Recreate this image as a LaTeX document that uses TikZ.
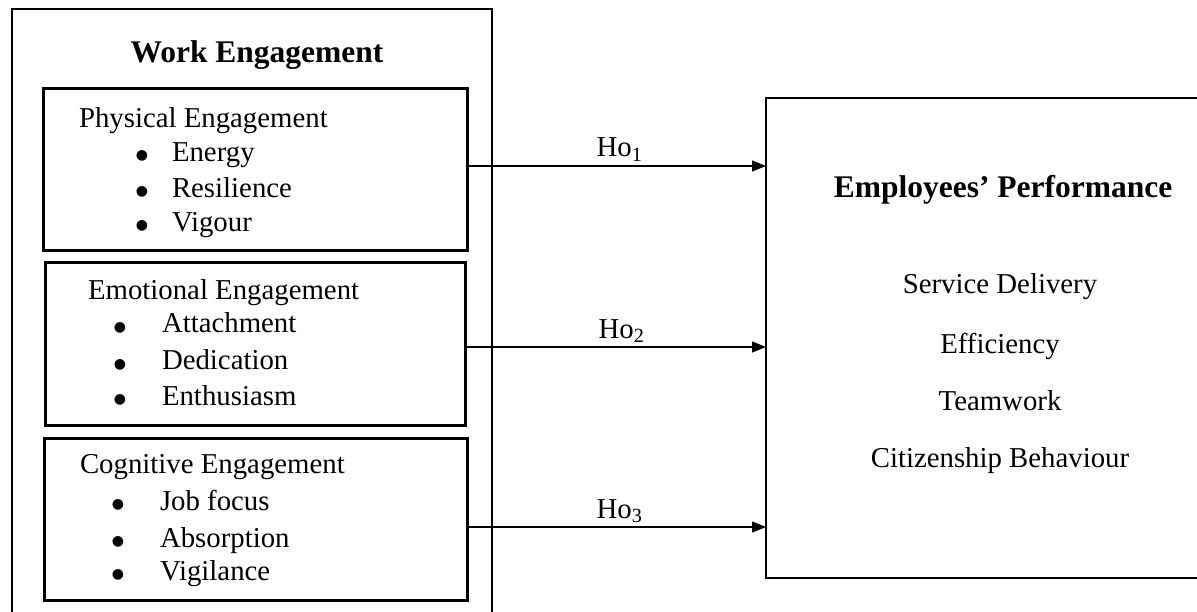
\documentclass[tikz,border=0pt]{standalone}
\usepackage{fontspec}
\setmainfont{Liberation Serif}
\newfontfamily\bulletfont{DejaVu Sans}
\usetikzlibrary{arrows.meta}
\begin{document}
\begin{tikzpicture}[x=1pt,y=-1pt,
  box/.style={draw, rectangle, inner sep=0, outer sep=0, anchor=north west},
  txt/.style={inner sep=0, outer sep=0, anchor=base west, font=\fontsize{28.8}{34}\selectfont},
  ctxt/.style={inner sep=0, outer sep=0, anchor=base, font=\fontsize{28.8}{34}\selectfont},
  bul/.style={inner sep=0, outer sep=0, anchor=base, font=\bulletfont\fontsize{14}{14}\selectfont, yshift=2pt},
  btxt/.style={inner sep=0, outer sep=0, anchor=base, font=\fontsize{31.5}{38}\selectfont\bfseries},
  hyp/.style={line width=1.4pt, -{Triangle[length=14pt,width=11pt]}},
  hlab/.style={inner sep=0, outer sep=0, anchor=base, font=\fontsize{28.8}{34}\selectfont}
]
\useasboundingbox (0,0) rectangle (1197,612);
\clip (0,0) rectangle (1197,612);

% outer container (open at the bottom edge of the picture)
\node[box, line width=2.3pt, minimum width=480pt, minimum height=700pt] (work) at (12,9) {};
\node[btxt] (worktitle) at (257,63) {Work Engagement};

% inner boxes
\node[box, line width=3pt, minimum width=424pt, minimum height=162pt] (phys) at (43,89) {};
\node[box, line width=3pt, minimum width=420pt, minimum height=162pt] (emo) at (45,263) {};
\node[box, line width=3pt, minimum width=423pt, minimum height=162pt] (cog) at (44,438) {};

% right box (open at the right edge of the picture)
\node[box, line width=2.8pt, minimum width=520pt, minimum height=480pt] (perf) at (766,98) {};

% Physical
\node[txt] (physT) at (79,128) {Physical Engagement};
\node[bul] (pb1) at (142,162) {●};
\node[bul] (pb2) at (142,198) {●};
\node[bul] (pb3) at (142,232) {●};
\node[txt] (p1) at (172,162) {Energy};
\node[txt] (p2) at (172,198) {Resilience};
\node[txt] (p3) at (172,232) {Vigour};

% Emotional
\node[txt] (emoT) at (88,300) {Emotional Engagement};
\node[bul] (eb1) at (120,333) {●};
\node[bul] (eb2) at (120,370) {●};
\node[bul] (eb3) at (120,405) {●};
\node[txt] (e1) at (162,333) {Attachment};
\node[txt] (e2) at (162,370) {Dedication};
\node[txt] (e3) at (162,405) {Enthusiasm};

% Cognitive
\node[txt] (cogT) at (80,473) {Cognitive Engagement};
\node[bul] (cb1) at (118,510) {●};
\node[bul] (cb2) at (118,547) {●};
\node[bul] (cb3) at (118,580) {●};
\node[txt] (c1) at (160,510) {Job focus};
\node[txt] (c2) at (160,547) {Absorption};
\node[txt] (c3) at (160,580) {Vigilance};

% Performance
\node[btxt] (perfT) at (1003,198) {Employees’ Performance};
\node[ctxt] (r1) at (1000,294) {Service Delivery};
\node[ctxt] (r2) at (1000,353) {Efficiency};
\node[ctxt] (r3) at (1000,410) {Teamwork};
\node[ctxt] (r4) at (1000,467) {Citizenship Behaviour};

% hypotheses arrows
\coordinate (a1) at ([yshift=4pt]phys.east);
\coordinate (a2) at ([yshift=-3pt]emo.east);
\coordinate (a3) at ([yshift=-8pt]cog.east);
\draw[hyp] (a1) -- (a1 -| perf.west) node[hlab, pos=0.51, yshift=9pt] (h1) {Ho\textsubscript{1}};
\draw[hyp] (a2) -- (a2 -| perf.west) node[hlab, pos=0.52, yshift=9pt] (h2) {Ho\textsubscript{2}};
\draw[hyp] (a3) -- (a3 -| perf.west) node[hlab, pos=0.51, yshift=9pt] (h3) {Ho\textsubscript{3}};
\end{tikzpicture}
\end{document}
